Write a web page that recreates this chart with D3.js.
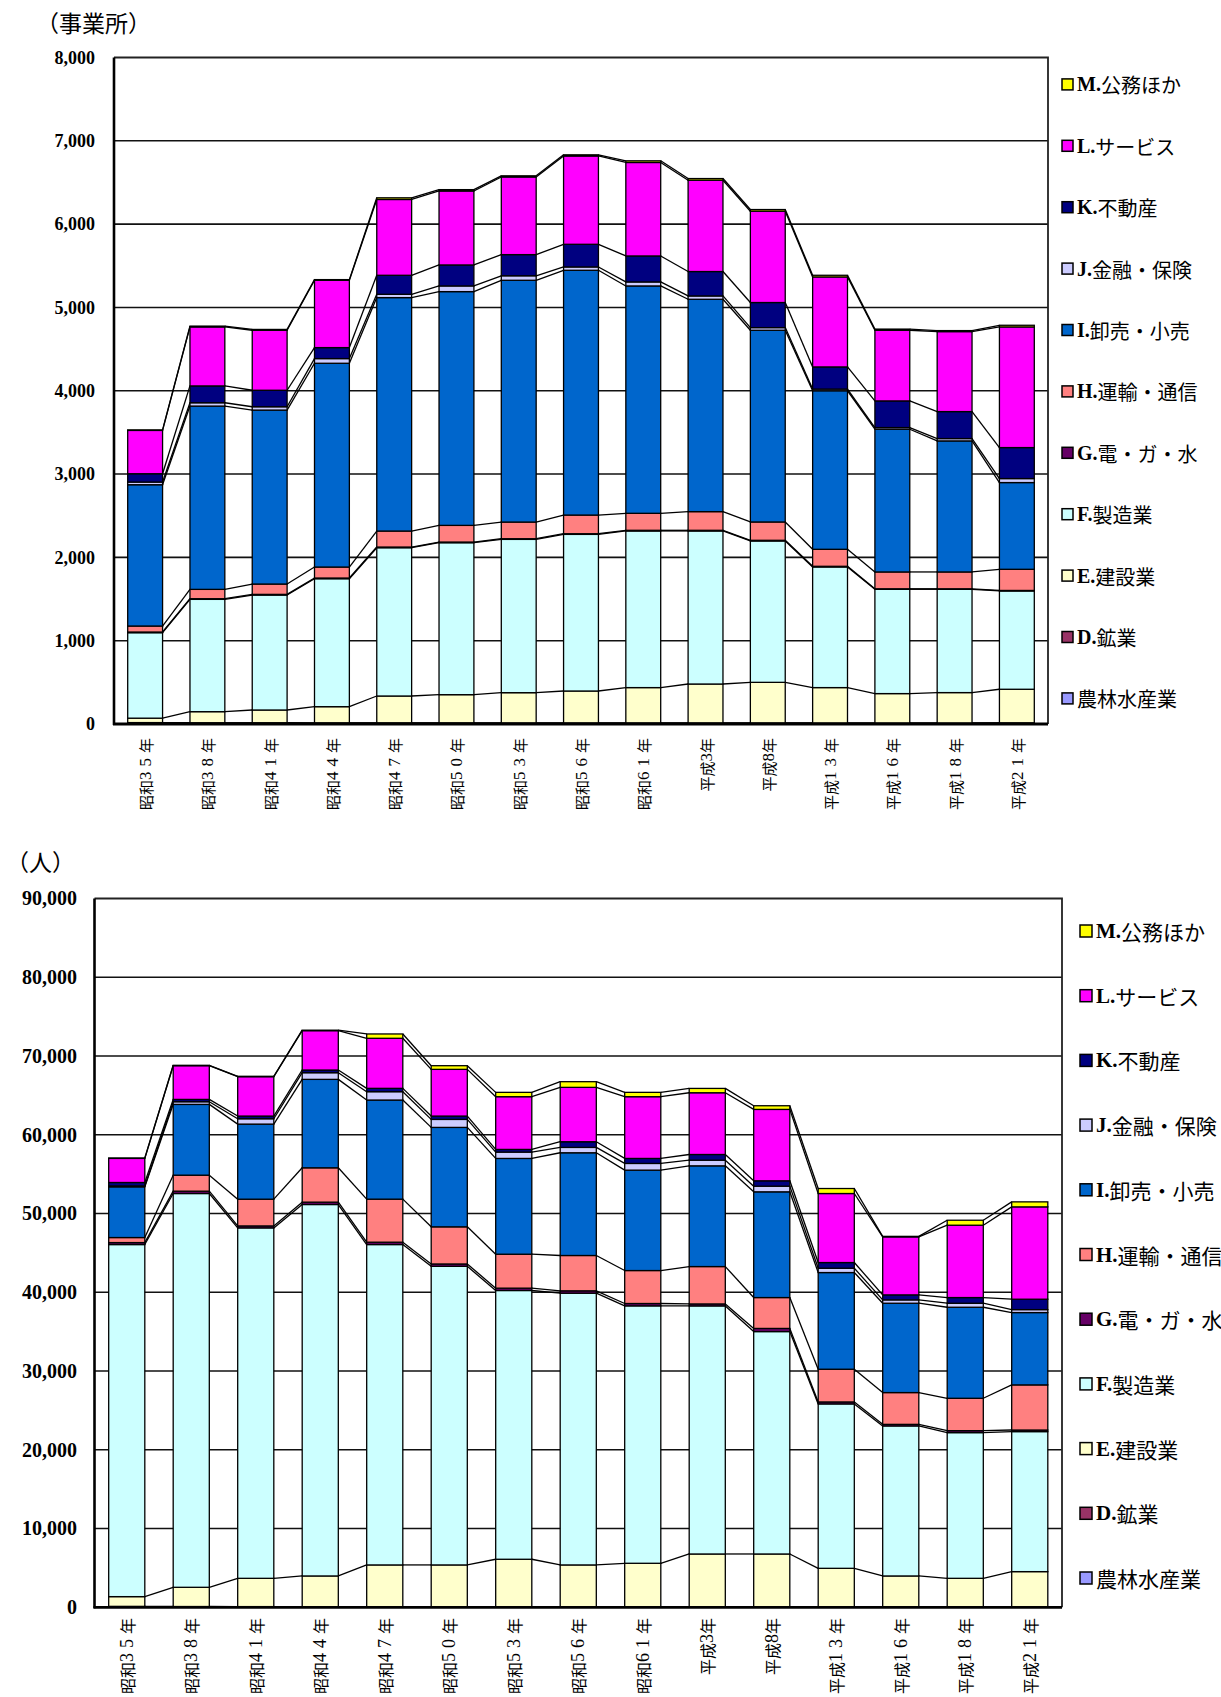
<!DOCTYPE html>
<html lang="ja">
<head>
<meta charset="utf-8">
<script src="https://cdn.jsdelivr.net/npm/d3@7"></script>
<style>
  body { margin: 0; background: #fff; }
  svg { display: block; }
</style>
</head>
<body>
<svg id="chart" width="1221" height="1697"></svg>
<script>
// 調査年
const categories = ["昭和35年", "昭和38年", "昭和41年", "昭和44年", "昭和47年", "昭和50年",
  "昭和53年", "昭和56年", "昭和61年", "平成3年", "平成8年", "平成13年", "平成16年", "平成18年", "平成21年"];

// 産業分類（積み上げ順：下から）
const seriesNames = ["農林水産業", "D.鉱業", "E.建設業", "F.製造業", "G.電・ガ・水", "H.運輸・通信",
  "I.卸売・小売", "J.金融・保険", "K.不動産", "L.サービス", "M.公務ほか"];
const seriesColors = ["#9999FF", "#993366", "#FFFFCC", "#CCFFFF", "#660066", "#FF8080",
  "#0066CC", "#CCCCFF", "#000080", "#FF00FF", "#FFFF00"];

// 目盛
const ticksEst = [0, 1000, 2000, 3000, 4000, 5000, 6000, 7000, 8000];
const ticksEmp = [0, 10000, 20000, 30000, 40000, 50000, 60000, 70000, 80000, 90000];

// 事業所数
const estAgri    = [12, 10, 10, 10, 10, 10, 10, 10, 10, 10, 10, 10, 10, 10, 12];
const estMining  = [5, 5, 5, 4, 4, 4, 3, 3, 3, 3, 3, 2, 2, 2, 2];
const estConstr  = [53, 133, 153, 194, 322, 338, 363, 383, 424, 467, 487, 425, 353, 365, 403];
const estManuf   = [1026, 1348, 1380, 1536, 1780, 1824, 1840, 1880, 1880, 1837, 1697, 1448, 1252, 1240, 1180];
const estUtil    = [8, 8, 8, 8, 8, 8, 8, 8, 8, 8, 8, 8, 6, 6, 6];
const estTransp  = [72, 112, 124, 132, 192, 200, 200, 224, 204, 224, 220, 204, 202, 202, 254];
const estTrade   = [1696, 2200, 2088, 2446, 2802, 2806, 2902, 2938, 2729, 2549, 2301, 1903, 1713, 1573, 1041];
const estFinance = [32, 40, 40, 56, 40, 68, 54, 40, 48, 40, 32, 20, 20, 28, 48];
const estRealty  = [100, 202, 198, 132, 228, 252, 254, 272, 312, 293, 301, 266, 320, 324, 372];
const estService = [520, 708, 720, 808, 910, 888, 932, 1060, 1122, 1096, 1096, 1080, 848, 960, 1448];
const estPublic  = [6, 10, 10, 8, 20, 16, 14, 14, 20, 20, 20, 20, 14, 12, 20];

// 従業者数
const empAgri    = [60, 50, 50, 40, 40, 40, 40, 40, 40, 40, 40, 40, 30, 30, 30];
const empMining  = [60, 50, 40, 30, 30, 20, 20, 20, 20, 20, 20, 10, 10, 10, 10];
const empConstr  = [1235, 2440, 3590, 3910, 5310, 5320, 6040, 5320, 5530, 6710, 6710, 4900, 3940, 3640, 4490];
const empManuf   = [44705, 50000, 44495, 47165, 40680, 37915, 34125, 34505, 32685, 31500, 28240, 20875, 19050, 18500, 17780];
const empUtil    = [250, 300, 250, 300, 300, 300, 300, 300, 300, 250, 400, 250, 200, 250, 200];
const empTransp  = [640, 2030, 3395, 4360, 5465, 4715, 4310, 4485, 4185, 4745, 3920, 4155, 4035, 4110, 5730];
const empTrade   = [6440, 8985, 9535, 11230, 12585, 12625, 12160, 13045, 12750, 12790, 13425, 12275, 11345, 11560, 9185];
const empFinance = [110, 340, 680, 845, 1060, 1015, 805, 680, 850, 720, 720, 550, 425, 510, 375];
const empRealty  = [440, 295, 340, 340, 425, 425, 340, 720, 635, 720, 680, 720, 635, 720, 1320];
const empService = [3060, 4280, 5000, 5000, 6355, 5930, 6695, 6905, 7840, 7840, 9065, 8765, 7365, 9185, 11725];
const empPublic  = [50, 50, 50, 60, 550, 465, 550, 720, 550, 550, 465, 635, 65, 635, 635];

const estSeries = [estAgri, estMining, estConstr, estManuf, estUtil, estTransp, estTrade, estFinance, estRealty, estService, estPublic];
const empSeries = [empAgri, empMining, empConstr, empManuf, empUtil, empTransp, empTrade, empFinance, empRealty, empService, empPublic];

const svg = d3.select("#chart");
const LATIN = "'Liberation Serif', 'Times New Roman', serif";
const CJK = "'Noto Sans CJK JP', 'Noto Sans', sans-serif";

function drawChart(o) {
  const root = svg.append("g");

  const rows = categories.map((c, i) => {
    const r = { cat: c };
    o.series.forEach((arr, k) => { r[k] = arr[i]; });
    return r;
  });
  const keys = o.series.map((_, k) => k);
  const stacked = d3.stack().keys(keys)(rows);

  const x = d3.scaleBand().domain(categories).range([o.left, o.right])
    .paddingInner(o.pad).paddingOuter(o.pad / 2);
  const y = d3.scaleLinear().domain([0, o.max]).range([o.bottom, o.top]);
  const bw = x.bandwidth();

  // 目盛線
  root.append("g").selectAll("line")
    .data(o.ticks.filter(t => t > 0 && t < o.max))
    .join("line")
    .attr("x1", o.left).attr("x2", o.right)
    .attr("y1", d => y(d)).attr("y2", d => y(d))
    .attr("stroke", "#111").attr("stroke-width", 1.6);

  // 枠（上・右）
  root.append("path")
    .attr("d", `M${o.left},${y(o.max)}H${o.right}V${o.bottom}`)
    .attr("fill", "none").attr("stroke", "#222").attr("stroke-width", 1.8);

  // 区分線（各系列の上端を隣の棒とつなぐ）
  const seg = [];
  stacked.forEach(s => {
    for (let i = 0; i < s.length - 1; i++) {
      seg.push({
        x1: x(s[i].data.cat) + bw, y1: y(s[i][1]),
        x2: x(s[i + 1].data.cat), y2: y(s[i + 1][1])
      });
    }
  });
  root.append("g").selectAll("line").data(seg).join("line")
    .attr("x1", d => d.x1).attr("y1", d => d.y1)
    .attr("x2", d => d.x2).attr("y2", d => d.y2)
    .attr("stroke", "#000").attr("stroke-width", 1.3);

  // 積み上げ棒
  root.append("g").selectAll("g").data(stacked).join("g")
    .attr("fill", d => seriesColors[d.key])
    .selectAll("rect").data(d => d).join("rect")
    .attr("x", d => x(d.data.cat))
    .attr("y", d => y(d[1]))
    .attr("width", bw)
    .attr("height", d => Math.max(0, y(d[0]) - y(d[1])))
    .attr("stroke", "#000").attr("stroke-width", 1.3);

  // 縦軸
  const yAxis = d3.axisLeft(y).tickValues(o.ticks).tickFormat(d3.format(","))
    .tickSize(0).tickPadding(o.left - o.labelRight);
  const ya = root.append("g").attr("transform", `translate(${o.left},0)`).call(yAxis);
  ya.select(".domain").remove();
  ya.selectAll("text")
    .attr("font-family", LATIN).attr("font-weight", "bold")
    .attr("font-size", o.tickFont).attr("fill", "#000");
  root.append("line")
    .attr("x1", o.left).attr("x2", o.left).attr("y1", y(o.max)).attr("y2", o.bottom + 1)
    .attr("stroke", "#000").attr("stroke-width", 2.6);

  // 横軸
  root.append("line")
    .attr("x1", o.left - 1).attr("x2", o.right).attr("y1", o.bottom).attr("y2", o.bottom)
    .attr("stroke", "#000").attr("stroke-width", 2.8);
  root.append("g").selectAll("text").data(categories).join("text")
    .attr("transform", d => `translate(${x(d) + bw / 2},${o.labelTop}) rotate(-90)`)
    .attr("text-anchor", "end").attr("dominant-baseline", "central")
    .attr("font-family", CJK).attr("font-size", o.catFont).attr("fill", "#000")
    .each(function (d) {
      const t = d3.select(this);
      const parts = d.split(/(\d+)/).filter(p => p.length);
      parts.forEach(p => {
        const sp = t.append("tspan").text(p);
        if (/^\d{2,}$/.test(p)) {
          sp.attr("font-family", LATIN).attr("letter-spacing", o.digitGap)
            .attr("font-size", o.catFont + 2);
        } else if (/^\d$/.test(p)) {
          sp.attr("font-family", LATIN).attr("font-size", o.catFont + 2);
        }
      });
    });

  // 単位
  root.append("text")
    .attr("x", o.unitX).attr("y", o.unitY)
    .attr("font-family", CJK).attr("font-size", 23).attr("fill", "#000")
    .text(o.unit);

  // 凡例
  const legend = root.append("g");
  const order = keys.slice().reverse();
  order.forEach((k, i) => {
    const cy = o.legendY + i * o.legendStep;
    legend.append("rect")
      .attr("x", o.legendX).attr("y", cy - o.legendBox / 2)
      .attr("width", o.legendBox).attr("height", o.legendBox)
      .attr("fill", seriesColors[k]).attr("stroke", "#000").attr("stroke-width", 1.5);
    const name = seriesNames[k];
    const m = name.match(/^([A-Z]\.)(.*)$/);
    const t = legend.append("text")
      .attr("x", o.legendX + o.legendBox + 4).attr("y", cy)
      .attr("dominant-baseline", "central")
      .attr("font-size", o.legendFont).attr("fill", "#000");
    if (m) {
      t.append("tspan").attr("font-family", LATIN).attr("font-weight", "bold").text(m[1]);
      t.append("tspan").attr("font-family", CJK).text(m[2]);
    } else {
      t.append("tspan").attr("font-family", CJK).text(name);
    }
  });
}

// 事業所数
drawChart({
  series: estSeries, ticks: ticksEst, max: 8000,
  left: 114, right: 1048, top: 57.5, bottom: 724, pad: 0.44,
  labelRight: 95, tickFont: 18, catFont: 15, digitGap: 5, labelTop: 738,
  unit: "（事業所）", unitX: 36, unitY: 32,
  legendX: 1062, legendY: 84.4, legendStep: 61.4, legendBox: 11, legendFont: 20
});

// 従業者数
drawChart({
  series: empSeries, ticks: ticksEmp, max: 90000,
  left: 94.5, right: 1062, top: 898.5, bottom: 1607.3, pad: 0.44,
  labelRight: 77, tickFont: 20, catFont: 16, digitGap: 5, labelTop: 1618,
  unit: "（人）", unitX: 6, unitY: 871,
  legendX: 1080, legendY: 931, legendStep: 64.7, legendBox: 12, legendFont: 21
});
</script>
</body>
</html>
